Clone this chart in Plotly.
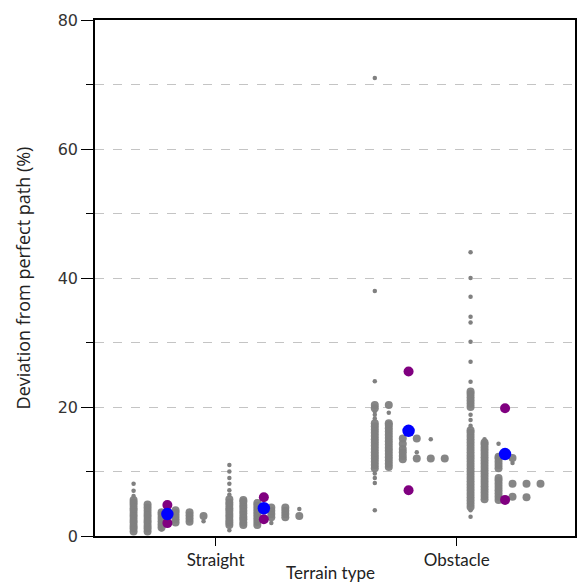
import plotly.graph_objects as go

# ---------------- data (values in % deviation) ----------------
categories = ["Straight", "Obstacle"]

# dot-plot columns: big dots per column, small dots per column
straight_a_big = [
    [0.7, 1.2, 1.6, 2.1, 2.5, 3.0, 3.4, 3.9, 4.3, 4.8, 5.2, 5.6],
    [0.7, 1.2, 1.6, 2.1, 2.5, 3.0, 3.4, 3.9, 4.4, 4.9],
    [1.3, 1.8, 2.3, 2.8, 3.3, 3.7],
    [2.1, 2.6, 3.1, 3.6, 4.0],
    [2.2, 2.7, 3.2, 3.7],
    [3.1],
]
straight_a_small = [[6.2, 7.0, 8.1], [], [1.0], [], [], [2.3]]

straight_b_big = [
    [1.7, 2.1, 2.5, 3.0, 3.4, 3.9, 4.3, 4.8, 5.2, 5.7],
    [1.7, 2.1, 2.6, 3.0, 3.5, 3.9, 4.4, 4.8, 5.3, 5.6],
    [1.7, 2.2, 2.7, 3.2, 3.7, 4.2, 4.7, 5.1],
    [2.9, 3.4, 3.9, 4.4],
    [2.9, 3.4, 3.9, 4.4],
    [3.1],
]
straight_b_small = [[0.9, 6.4, 7.1, 8.1, 9.0, 10.0, 11.0], [], [], [2.0], [], [4.2]]

obstacle_a_big = [
    [10.5, 11.0, 11.5, 12.0, 12.5, 13.0, 13.5, 14.0, 14.5, 15.0, 15.5, 16.0,
     16.5, 17.0, 17.5, 19.8, 20.3],
    [10.7, 11.2, 11.7, 12.2, 12.7, 13.2, 13.7, 14.2, 14.7, 15.2, 15.7, 16.2,
     16.7, 17.2, 17.5, 20.3],
    [11.9, 12.4, 13.0, 13.5, 14.3, 15.1],
    [12.0, 15.1],
    [12.0],
    [12.0],
]
obstacle_a_small = [[4.0, 8.2, 9.0, 9.7, 18.2, 18.8, 19.3, 24.0, 38.0, 71.0],
                    [19.1], [], [13.0], [15.0], []]

obstacle_b_big = [
    [4.5, 5.0, 5.5, 6.0, 6.5, 7.0, 7.5, 8.0, 8.5, 9.0, 9.5, 10.0, 10.5, 11.0,
     11.5, 12.0, 12.5, 13.0, 13.5, 14.0, 14.5, 15.0, 15.5, 16.0, 16.4,
     20.0, 20.5, 21.0, 21.5, 22.0, 22.4],
    [5.7, 6.2, 6.7, 7.2, 7.7, 8.2, 8.7, 9.2, 9.7, 10.2, 10.7, 11.2, 11.7,
     12.2, 12.7, 13.2, 13.7, 14.2, 14.5],
    [5.6, 6.1, 6.6, 7.1, 7.6, 8.1, 8.6, 9.0, 10.5, 11.0, 11.5, 12.0, 12.3],
    [6.1, 8.1, 12.1],
    [6.0, 8.1],
    [8.1],
]
obstacle_b_small = [[3.0, 4.0, 17.1, 18.0, 18.8, 23.9, 27.0, 30.1, 33.1, 34.0,
                     37.1, 40.0, 44.0],
                    [15.0], [14.3], [11.3], [], []]

group_means = [3.4, 4.3, 16.3, 12.7]
group_upper = [4.8, 6.0, 25.5, 19.8]
group_lower = [2.0, 2.6, 7.1, 5.6]

# ---------------- layout helpers ----------------
GROUP_START = [-0.34, 0.057]   # first column offset (left / right group)
MEAN_OFF = [-0.2, 0.2]
COL_STEP = 0.058
GRAY = "#808080"

groups = [
    (0, 0, straight_a_big, straight_a_small),
    (0, 1, straight_b_big, straight_b_small),
    (1, 0, obstacle_a_big, obstacle_a_small),
    (1, 1, obstacle_b_big, obstacle_b_small),
]

fig = go.Figure()

bx, by, sx, sy = [], [], [], []
for cat, side, big, small in groups:
    for ci, col in enumerate(big):
        for v in col:
            bx.append(cat + GROUP_START[side] + ci * COL_STEP)
            by.append(v)
    for ci, col in enumerate(small):
        for v in col:
            sx.append(cat + GROUP_START[side] + ci * COL_STEP)
            sy.append(v)

fig.add_trace(go.Scatter(x=bx, y=by, mode="markers",
                         marker=dict(size=8, color=GRAY, opacity=0.95,
                                     line=dict(width=0)),
                         showlegend=False, hoverinfo="y"))
fig.add_trace(go.Scatter(x=sx, y=sy, mode="markers",
                         marker=dict(size=4.5, color=GRAY, line=dict(width=0)),
                         showlegend=False, hoverinfo="y"))

mx = [cat + MEAN_OFF[side] for cat, side, _, _ in groups]
fig.add_trace(go.Scatter(x=mx + mx, y=group_upper + group_lower, mode="markers",
                         marker=dict(size=10, color="#800080", line=dict(width=0)),
                         showlegend=False))
fig.add_trace(go.Scatter(x=mx, y=group_means, mode="markers",
                         marker=dict(size=12.5, color="#0000FF", line=dict(width=0)),
                         showlegend=False))

fig.update_layout(
    width=583, height=587,
    margin=dict(l=95, r=6, t=20, b=51),
    plot_bgcolor="white", paper_bgcolor="white",
    font=dict(family="Open Sans", color="#222222"),
    xaxis=dict(
        range=[-0.5, 1.49],
        tickvals=[0, 1], ticktext=categories,
        ticks="outside", ticklen=8, tickcolor="black",
        showline=True, linecolor="black", linewidth=1.5, mirror=True,
        showgrid=False, zeroline=False,
        tickfont=dict(family="Lato", size=17, color="#222222"),
    ),
    yaxis=dict(
        range=[0, 80],
        tickvals=[0, 20, 40, 60, 80],
        ticks="outside", ticklen=12, tickcolor="black",
        showline=True, linecolor="black", linewidth=1.5, mirror=True,
        showgrid=True, gridcolor="#c4c4c4", griddash="dash", gridwidth=1,
        zeroline=False,
        tickfont=dict(family="DejaVu Sans", size=16, color="#333333"),
        minor=dict(tickvals=[10, 30, 50, 70], ticks="outside", ticklen=7,
                   tickcolor="black", showgrid=True, gridcolor="#c4c4c4",
                   griddash="dash", gridwidth=1),
        title=dict(text="Deviation from perfect path (%)",
                   font=dict(family="Open Sans", size=18, color="#222222"),
                   standoff=22),
    ),
    annotations=[dict(text="Terrain type", xref="paper", yref="paper",
                      x=0.49, y=-0.07, xanchor="center", yanchor="middle",
                      showarrow=False,
                      font=dict(family="Lato", size=17, color="#222222"))],
)

fig.write_html("out.html")
